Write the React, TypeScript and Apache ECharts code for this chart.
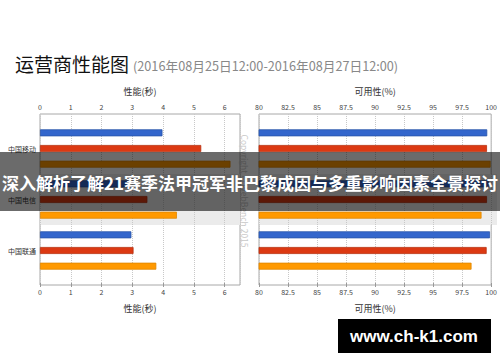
import React, { useEffect, useRef } from "react";
import * as echarts from "echarts";

const categories = ["中国移动", "中国电信", "中国联通"];
const perfBlue = [3.98, 2.87, 2.97];
const perfRed = [5.24, 3.49, 3.04];
const perfOrange = [6.19, 4.45, 3.78];
const availBlue = [99.18, 99.3, 99.41];
const availRed = [99.16, 99.16, 99.13];
const availOrange = [99.46, 98.7, 97.86];

const titleText = "运营商性能图";
const subtitleText = "(2016年08月25日12:00-2016年08月27日12:00)";
const perfName = "性能(秒)";
const availName = "可用性(%)";
const bannerText = "深入解析了解21赛季法甲冠军非巴黎成因与多重影响因素全景探讨";
const watermarkText = "www.ch-k1.com";
const copyrightText = "Copyright © WebBench 2015";

const CJK = "'Noto Sans CJK SC', 'Noto Sans', sans-serif";

const seriesColors = [
  { color: "#3366cc", border: "#2a55aa" },
  { color: "#dc3912", border: "#b82e0e" },
  { color: "#ff9900", border: "#e08600" },
];

export default function App() {
  const ref = useRef<HTMLDivElement>(null);
  useEffect(() => {
    if (!ref.current) return;
    const chart = echarts.init(ref.current, null, { renderer: "svg" });

    const labelStyle = { fontSize: 7, color: "#444", fontFamily: CJK };
    const nameStyle = { fontSize: 9, color: "#333", fontFamily: CJK };

    const frameX = (gridIndex: number, pos: "top" | "bottom", min: number, max: number, interval: number, name: string, isPerf: boolean) => ({
      type: "value",
      gridIndex,
      position: pos,
      min,
      max,
      interval,
      name,
      nameLocation: "middle",
      nameGap: pos === "top" ? 18 : 19,
      nameTextStyle: nameStyle,
      z: 1,
      axisLine: { show: false },
      axisTick: { show: true, length: 2, inside: false, lineStyle: { color: "#999" } },
      axisLabel: { ...labelStyle, margin: pos === "top" ? 4 : 3, showMaxLabel: !isPerf },
      splitLine: pos === "top" ? { show: true, lineStyle: { color: "#c8c8c8", type: "dotted", width: 1 } } : { show: false },
    });

    const hiddenX = (gridIndex: number, min: number, max: number) => ({
      type: "value",
      gridIndex,
      min,
      max,
      show: false,
    });

    const catY = (gridIndex: number, showLabel: boolean) => ({
      type: "category",
      gridIndex,
      data: categories,
      inverse: true,
      z: 0,
      axisLine: { show: false },
      axisTick: { show: false },
      axisLabel: { show: showLabel, ...labelStyle, color: "#333", margin: 4 },
      splitLine: { show: false },
      splitArea: { show: true, areaStyle: { color: ["rgba(0,0,0,0)", "#ebebeb"] } },
    });

    const mkSeries = (xAxisIndex: number, yAxisIndex: number, data: number[], ci: number) => ({
      type: "bar",
      xAxisIndex,
      yAxisIndex,
      data,
      barWidth: 7,
      barGap: "124%",
      z: 3,
      itemStyle: {
        color: seriesColors[ci].color,
        borderColor: seriesColors[ci].border,
        borderWidth: 0.8,
      },
    });

    const option: any = {
      animation: false,
      backgroundColor: "#fff",
      grid: [
        { left: 40, top: 114, width: 200, height: 171, show: true, borderColor: "#a8a8a8", borderWidth: 1, backgroundColor: "rgba(0,0,0,0)" },
        { left: 40, top: 123, width: 200, height: 153 },
        { left: 259, top: 114, width: 238, height: 171, show: true, borderColor: "#a8a8a8", borderWidth: 1, backgroundColor: "rgba(0,0,0,0)" },
        { left: 259, top: 123, width: 238, height: 153 },
      ],
      xAxis: [
        frameX(0, "top", 0, 6.5, 1, perfName, true),
        frameX(0, "bottom", 0, 6.5, 1, perfName, true),
        hiddenX(1, 0, 6.5),
        frameX(2, "top", 80, 100, 2.5, availName, false),
        frameX(2, "bottom", 80, 100, 2.5, availName, false),
        hiddenX(3, 80, 100),
      ],
      yAxis: [
        { type: "value", gridIndex: 0, show: false },
        catY(1, true),
        { type: "value", gridIndex: 2, show: false },
        catY(3, false),
      ],
      series: [
        mkSeries(2, 1, perfBlue, 0),
        mkSeries(2, 1, perfRed, 1),
        mkSeries(2, 1, perfOrange, 2),
        mkSeries(5, 3, availBlue, 0),
        mkSeries(5, 3, availRed, 1),
        mkSeries(5, 3, availOrange, 2),
      ],
      graphic: [
        {
          type: "text",
          x: 15,
          y: 63,
          z: 10,
          style: { text: titleText, fontSize: 19, fill: "#111", fontFamily: CJK, verticalAlign: "middle", align: "left" },
        },
        {
          type: "text",
          x: 133,
          y: 65,
          z: 10,
          style: { text: subtitleText, fontSize: 12.7, fill: "#888", fontFamily: CJK, verticalAlign: "middle", align: "left" },
        },
        {
          type: "text",
          x: 245,
          y: 191,
          rotation: -Math.PI / 2,
          z: 10,
          style: { text: copyrightText, fontSize: 8.5, fill: "#c8c8c8", fontFamily: CJK, verticalAlign: "middle", align: "center" },
        },
        {
          type: "rect",
          z: 100,
          shape: { x: 0, y: 152, width: 500, height: 59 },
          style: { fill: "rgba(0,0,0,0.58)" },
        },
        {
          type: "text",
          x: 250,
          y: 182,
          z: 101,
          style: { text: bannerText, fontSize: 17, fontWeight: "bold", fill: "#fff", fontFamily: CJK, verticalAlign: "middle", align: "center" },
        },
        {
          type: "rect",
          z: 100,
          shape: { x: 338, y: 319, width: 153, height: 34 },
          style: { fill: "#000" },
        },
        {
          type: "text",
          x: 414,
          y: 336,
          z: 101,
          style: { text: watermarkText, fontSize: 17, fontWeight: "bold", fill: "#fff", fontFamily: "'Liberation Sans', Arial, sans-serif", verticalAlign: "middle", align: "center" },
        },
      ],
    };

    chart.setOption(option);
    return () => chart.dispose();
  }, []);

  return <div ref={ref} style={{ position: "fixed", left: 0, top: 0, width: 500, height: 362 }} />;
}
